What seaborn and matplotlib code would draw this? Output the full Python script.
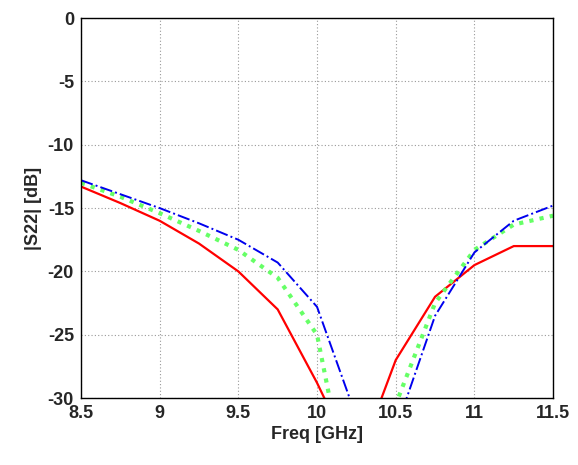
import matplotlib
matplotlib.use("Agg")
import matplotlib.pyplot as plt
import seaborn as sns
import pandas as pd

freq = [8.5, 8.75, 9.0, 9.25, 9.5, 9.75, 10.0, 10.25, 10.5, 10.75, 11.0, 11.25, 11.5]
s22_red = [-13.3, -14.6, -16.0, -17.8, -20.0, -23.0, -28.8, -35.3, -27.0, -22.0, -19.5, -18.0, -18.0]
s22_green = [-13.0, -14.1, -15.4, -16.8, -18.3, -20.5, -25.0, -40.6, -30.5, -22.5, -18.3, -16.3, -15.6]
s22_blue = [-12.8, -13.9, -15.0, -16.2, -17.5, -19.3, -22.8, -31.5, -32.5, -23.5, -18.5, -16.0, -14.8]

sns.set_style("white")
plt.rcParams['font.family'] = ['Liberation Sans', 'DejaVu Sans']
plt.rcParams['axes.unicode_minus'] = False

fig = plt.figure(figsize=(5.78, 4.65), dpi=100)
ax = fig.add_axes([0.140, 0.144, 0.817, 0.817])

df = pd.DataFrame({"freq": freq, "red": s22_red, "green": s22_green, "blue": s22_blue})
sns.lineplot(data=df, x="freq", y="red", ax=ax, color="#ff0000", lw=1.6)
sns.lineplot(data=df, x="freq", y="green", ax=ax, color="#66ff66", lw=3, linestyle=(0, (1, 1.5)))
sns.lineplot(data=df, x="freq", y="blue", ax=ax, color="#0000ee", lw=1.4, linestyle="-.")

ax.set_xlim(8.5, 11.5)
ax.set_ylim(-30, 0)
ax.set_xticks([8.5, 9, 9.5, 10, 10.5, 11, 11.5])
ax.set_xticklabels(["8.5", "9", "9.5", "10", "10.5", "11", "11.5"])
ax.set_yticks(range(-30, 1, 5))
ax.grid(True, color="#999999", linestyle=(0, (1, 2)), lw=0.8)
for sp in ax.spines.values():
    sp.set_color("black")
    sp.set_linewidth(1)
ax.tick_params(labelsize=13, length=0, pad=5)
for lab in ax.get_xticklabels() + ax.get_yticklabels():
    lab.set_fontweight("bold")
ax.set_xlabel("Freq [GHz]", fontsize=13, fontweight="bold", labelpad=3)
ax.set_ylabel("|S22| [dB]", fontsize=13, fontweight="bold", labelpad=4)

fig.savefig("out.png", dpi=100)
